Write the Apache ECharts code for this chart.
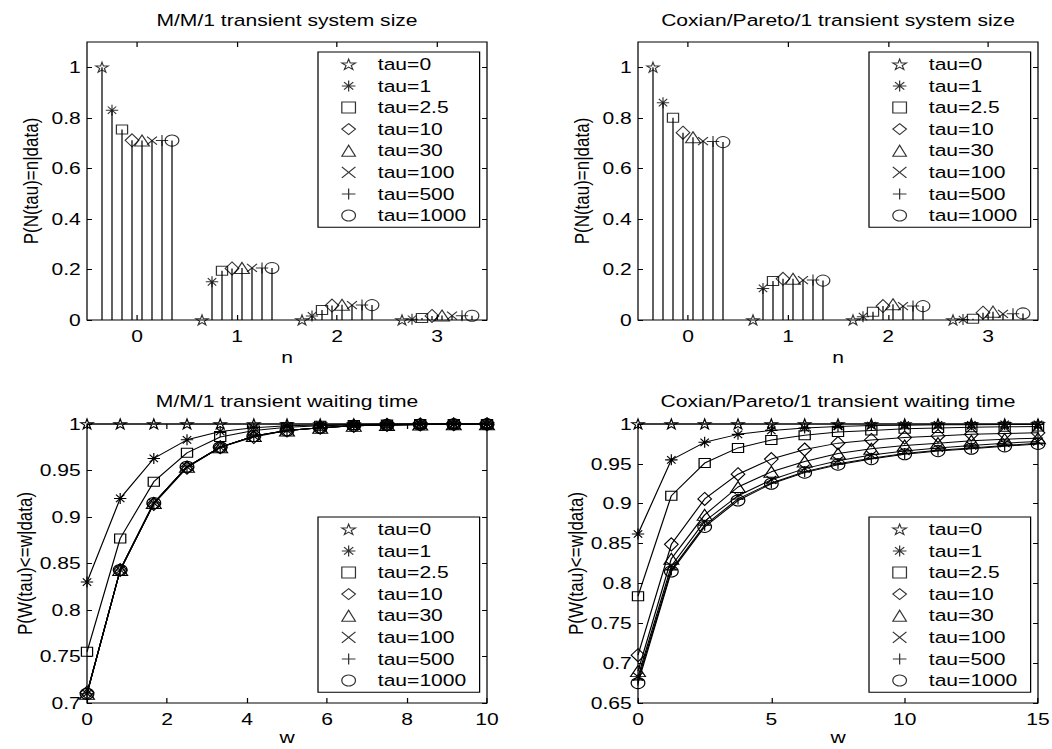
<!DOCTYPE html>
<html>
<head>
<meta charset="utf-8">
<script src="https://cdn.jsdelivr.net/npm/echarts@6/dist/echarts.min.js"></script>
<style>
  html, body { margin: 0; padding: 0; background: #fff; overflow: hidden; }
  #stage { width: 1052px; height: 749px; overflow: hidden; }
  /* the figure is laid out on an 848px canvas and widened to the page width */
  #chart { width: 848px; height: 749px; transform: scaleX(1.2405660377); transform-origin: 0 0; }
</style>
</head>
<body>
<div id="stage"><div id="chart"></div></div>
<script>
// ---------------- data ----------------
const tauNames = ['tau=0', 'tau=1', 'tau=2.5', 'tau=10', 'tau=30', 'tau=100', 'tau=500', 'tau=1000'];

// system size: P(N(tau)=n|data), one row per tau, columns n = 0..3
const nValues = [0, 1, 2, 3];
const sizeYTicks = [0, 0.2, 0.4, 0.6, 0.8, 1];
const mm1Size = [
  [1.000, 0.000, 0.000, 0.000],
  [0.830, 0.151, 0.016, 0.003],
  [0.754, 0.195, 0.040, 0.008],
  [0.711, 0.204, 0.057, 0.016],
  [0.710, 0.206, 0.060, 0.018],
  [0.710, 0.206, 0.059, 0.017],
  [0.710, 0.206, 0.059, 0.017],
  [0.710, 0.206, 0.059, 0.017]
];
const coxSize = [
  [1.000, 0.000, 0.000, 0.000],
  [0.860, 0.125, 0.013, 0.002],
  [0.800, 0.154, 0.033, 0.005],
  [0.741, 0.163, 0.055, 0.029],
  [0.723, 0.163, 0.062, 0.033],
  [0.708, 0.158, 0.055, 0.024],
  [0.706, 0.158, 0.055, 0.025],
  [0.704, 0.156, 0.055, 0.026]
];

// waiting time: P(W(tau)<=w|data)
const mm1WaitW = [0, 0.83, 1.67, 2.5, 3.33, 4.17, 5, 5.83, 6.67, 7.5, 8.33, 9.17, 10];
const mm1WaitXTicks = [0, 2, 4, 6, 8, 10];
const mm1WaitYTicks = [0.7, 0.75, 0.8, 0.85, 0.9, 0.95, 1];
const mm1Wait = [
  [1, 1, 1, 1, 1, 1, 1, 1, 1, 1, 1, 1, 1],
  [0.830, 0.920, 0.963, 0.983, 0.992, 0.996, 0.998, 0.999, 0.9995, 1, 1, 1, 1],
  [0.755, 0.877, 0.938, 0.969, 0.986, 0.993, 0.9965, 0.998, 0.999, 0.9995, 1, 1, 1],
  [0.711, 0.843, 0.914, 0.953, 0.975, 0.986, 0.993, 0.996, 0.998, 0.999, 0.9995, 0.9997, 0.9998],
  [0.710, 0.843, 0.915, 0.954, 0.975, 0.987, 0.993, 0.996, 0.998, 0.999, 0.9995, 0.9997, 0.9998],
  [0.710, 0.843, 0.915, 0.954, 0.975, 0.987, 0.993, 0.996, 0.998, 0.999, 0.9995, 0.9997, 0.9998],
  [0.710, 0.843, 0.915, 0.954, 0.975, 0.987, 0.993, 0.996, 0.998, 0.999, 0.9995, 0.9997, 0.9998],
  [0.710, 0.843, 0.915, 0.954, 0.975, 0.987, 0.993, 0.996, 0.998, 0.999, 0.9995, 0.9997, 0.9998]
];

const coxWaitW = [0, 1.25, 2.5, 3.75, 5, 6.25, 7.5, 8.75, 10, 11.25, 12.5, 13.75, 15];
const coxWaitXTicks = [0, 5, 10, 15];
const coxWaitYTicks = [0.65, 0.7, 0.75, 0.8, 0.85, 0.9, 0.95, 1];
const coxWait = [
  [1, 1, 1, 1, 1, 1, 1, 1, 1, 1, 1, 1, 1],
  [0.862, 0.955, 0.977, 0.987, 0.992, 0.995, 0.997, 0.998, 0.9985, 0.999, 0.999, 0.9995, 0.9995],
  [0.784, 0.910, 0.951, 0.970, 0.980, 0.986, 0.990, 0.992, 0.994, 0.995, 0.996, 0.9965, 0.997],
  [0.710, 0.849, 0.906, 0.937, 0.956, 0.968, 0.976, 0.980, 0.983, 0.985, 0.987, 0.988, 0.989],
  [0.690, 0.831, 0.886, 0.921, 0.940, 0.953, 0.963, 0.969, 0.973, 0.976, 0.979, 0.981, 0.982],
  [0.683, 0.822, 0.878, 0.910, 0.930, 0.944, 0.954, 0.961, 0.966, 0.970, 0.973, 0.976, 0.978],
  [0.679, 0.817, 0.873, 0.906, 0.926, 0.940, 0.950, 0.957, 0.963, 0.967, 0.970, 0.973, 0.976],
  [0.675, 0.815, 0.871, 0.904, 0.925, 0.939, 0.949, 0.956, 0.962, 0.966, 0.969, 0.972, 0.975]
];

const panelTitles = [
  'M/M/1 transient system size',
  'Coxian/Pareto/1 transient system size',
  'M/M/1 transient waiting time',
  'Coxian/Pareto/1 transient waiting time'
];

// ---------------- layout & style ----------------
const S = 1052 / 848;            // horizontal widening applied by CSS
const U = px => px / S;          // page x -> canvas x
const FONT = '"Liberation Sans", Arial, Helvetica, sans-serif';
const BLACK = '#000';

const panels = [
  { left: 87, right: 487, top: 42, bottom: 320 },
  { left: 638, right: 1038, top: 42, bottom: 320 },
  { left: 87, right: 487, top: 424, bottom: 703 },
  { left: 638, right: 1038, top: 424, bottom: 703 }
];
const titleTop = [12, 12, 393, 393];
const legendPos = [
  { left: 318, top: 52 }, { left: 869, top: 52 },
  { left: 318, top: 517 }, { left: 869, top: 517 }
];

const STAR = 'path://M50 0L61.23 34.55L97.55 34.55L68.17 55.9L79.39 90.45L50 69.1L20.61 90.45L31.83 55.9L2.45 34.55L38.77 34.55Z';
const ASTERISK = 'path://M50 0L50 100M0 50L100 50M16 16L84 84M84 16L16 84';
const CROSS = 'path://M0 0L100 100M100 0L0 100';
const PLUS = 'path://M50 0L50 100M0 50L100 50';
const markers = [
  { symbol: STAR, size: [10, 10] },
  { symbol: ASTERISK, size: [10, 11] },
  { symbol: 'rect', size: [9, 9] },
  { symbol: 'diamond', size: [11, 13] },
  { symbol: 'triangle', size: [12, 11] },
  { symbol: CROSS, size: [8, 8] },
  { symbol: PLUS, size: [10, 11] },
  { symbol: 'circle', size: [11, 11] }
];
const markerStyle = { color: 'rgba(0,0,0,0)', borderColor: BLACK, borderWidth: 1 };
const STEM_STEP = 0.1;   // spacing of the grouped stems around each n

const axisCfg = [
  { xMin: -0.5, xMax: 3.5, xTicks: nValues, yMin: 0, yMax: 1.1, yTicks: sizeYTicks,
    xName: 'n', yName: 'P(N(tau)=n|data)', xGap: 30, yGap: 37 },
  { xMin: -0.5, xMax: 3.5, xTicks: nValues, yMin: 0, yMax: 1.1, yTicks: sizeYTicks,
    xName: 'n', yName: 'P(N(tau)=n|data)', xGap: 30, yGap: 37 },
  { xMin: 0, xMax: 10, xTicks: mm1WaitXTicks, yMin: 0.7, yMax: 1, yTicks: mm1WaitYTicks,
    xName: 'w', yName: 'P(W(tau)<=w|data)', xGap: 26, yGap: 37 },
  { xMin: 0, xMax: 15, xTicks: coxWaitXTicks, yMin: 0.65, yMax: 1, yTicks: coxWaitYTicks,
    xName: 'w', yName: 'P(W(tau)<=w|data)', xGap: 26, yGap: 37 }
];

const tickLine = { color: BLACK, width: 1 };
const labelText = { color: BLACK, fontFamily: FONT, fontSize: 17 };

const grid = panels.map(p => ({
  left: U(p.left), width: U(p.right) - U(p.left), top: p.top, height: p.bottom - p.top,
  show: true, borderColor: BLACK, borderWidth: 1, backgroundColor: '#fff',
  containLabel: false, outerBoundsMode: 'none'
}));

const xAxis = [], yAxis = [];
axisCfg.forEach((c, p) => {
  xAxis.push({
    gridIndex: p, type: 'value', position: 'bottom', min: c.xMin, max: c.xMax,
    axisLine: { show: false, onZero: false },
    axisTick: { inside: true, length: 5, customValues: c.xTicks, lineStyle: tickLine },
    axisLabel: Object.assign({ customValues: c.xTicks, margin: 8 }, labelText),
    splitLine: { show: false },
    name: c.xName, nameLocation: 'middle', nameGap: c.xGap,
    nameTextStyle: Object.assign({ lineHeight: 15 }, labelText)
  });
  xAxis.push({
    gridIndex: p, type: 'value', position: 'top', min: c.xMin, max: c.xMax,
    axisLine: { show: false, onZero: false },
    axisTick: { inside: true, length: 5, customValues: c.xTicks, lineStyle: tickLine },
    axisLabel: { show: false }, splitLine: { show: false }
  });
  yAxis.push({
    gridIndex: p, type: 'value', position: 'left', min: c.yMin, max: c.yMax,
    axisLine: { show: false, onZero: false },
    axisTick: { inside: true, length: 4, customValues: c.yTicks, lineStyle: tickLine },
    axisLabel: Object.assign({ customValues: c.yTicks, margin: 5 }, labelText),
    splitLine: { show: false },
    name: c.yName, nameLocation: 'middle', nameGap: c.yGap,
    nameTextStyle: labelText
  });
  yAxis.push({
    gridIndex: p, type: 'value', position: 'right', min: c.yMin, max: c.yMax,
    axisLine: { show: false, onZero: false },
    axisTick: { inside: true, length: 4, customValues: c.yTicks, lineStyle: tickLine },
    axisLabel: { show: false }, splitLine: { show: false }
  });
});

// a stem from the zero line up to the value
function stemItem(params, api) {
  const x = api.value(0), y = api.value(1);
  const a = api.coord([x, 0]), b = api.coord([x, y]);
  return {
    type: 'line',
    shape: { x1: a[0], y1: a[1], x2: b[0], y2: b[1] },
    style: { stroke: BLACK, lineWidth: 1 }
  };
}

const series = [];
// stem panels (their marker series come first, so the legends take these icons)
[[mm1Size, 0], [coxSize, 1]].forEach(([rows, p]) => {
  rows.forEach((row, k) => {
    const pts = nValues.map((n, i) => [n + (k - 3.5) * STEM_STEP, row[i]]);
    series.push({
      type: 'scatter', name: tauNames[k], xAxisIndex: 2 * p, yAxisIndex: 2 * p,
      data: pts, symbol: markers[k].symbol, symbolSize: markers[k].size,
      itemStyle: markerStyle, z: 4, clip: false, silent: true
    });
    series.push({
      type: 'custom', xAxisIndex: 2 * p, yAxisIndex: 2 * p,
      data: pts, renderItem: stemItem, z: 2, silent: true
    });
  });
});
// waiting time panels
[[mm1WaitW, mm1Wait, 2], [coxWaitW, coxWait, 3]].forEach(([ws, rows, p]) => {
  rows.forEach((row, k) => {
    series.push({
      type: 'line', name: tauNames[k], xAxisIndex: 2 * p, yAxisIndex: 2 * p,
      data: ws.map((w, i) => [w, row[i]]),
      symbol: markers[k].symbol, symbolSize: markers[k].size,
      showSymbol: true, showAllSymbol: true,
      lineStyle: { color: BLACK, width: 1 }, itemStyle: markerStyle,
      clip: false, z: 3, silent: true
    });
  });
});

const legend = legendPos.map(lp => ({
  data: tauNames, orient: 'vertical', left: U(lp.left), top: lp.top,
  selectedMode: false,
  itemWidth: 11, itemHeight: 11, itemGap: 4.6,
  padding: [3.8, 10.7, 3.2, 18.7],
  backgroundColor: '#fff', borderColor: BLACK, borderWidth: 1, borderRadius: 0,
  itemStyle: { color: 'rgba(0,0,0,0)', borderColor: BLACK, borderWidth: 1 },
  textStyle: { color: BLACK, fontFamily: FONT, fontSize: 17, lineHeight: 17, padding: [0, 0, 0, 13] }
}));

const title = panelTitles.map((t, p) => ({
  text: t, left: U((panels[p].left + panels[p].right) / 2), top: titleTop[p],
  textAlign: 'center', textVerticalAlign: 'top', padding: 0,
  textStyle: { color: BLACK, fontFamily: FONT, fontSize: 17, fontWeight: 'normal', lineHeight: 17 }
}));

const chart = echarts.init(document.getElementById('chart'), null, { renderer: 'svg', width: 848, height: 749 });
chart.setOption({
  animation: false,
  backgroundColor: '#fff',
  title, legend, grid, xAxis, yAxis, series
});
</script>
</body>
</html>
